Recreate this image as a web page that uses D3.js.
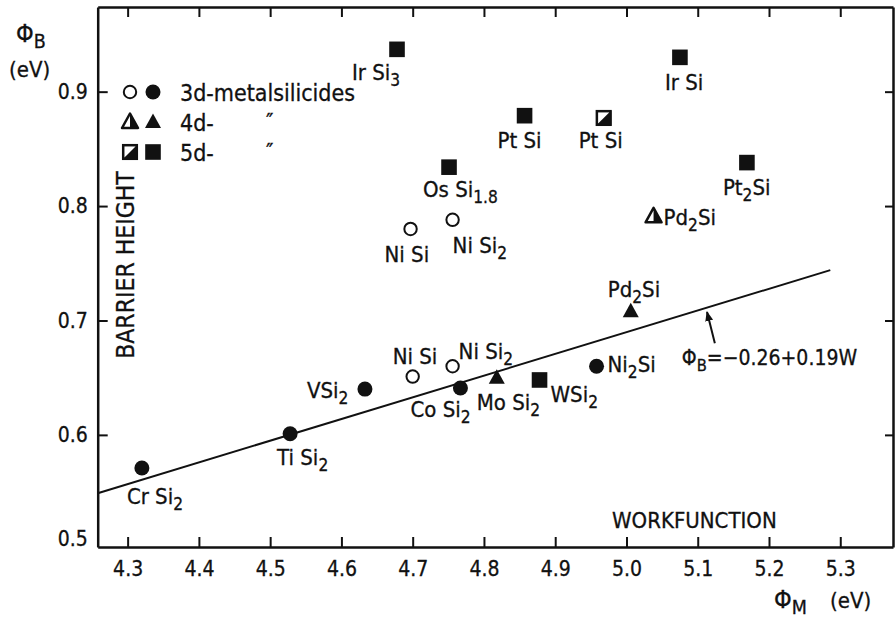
<!DOCTYPE html>
<html>
<head>
<meta charset="utf-8" />
<title>Barrier height vs workfunction</title>
<script src="https://d3js.org/d3.v7.min.js"></script>
<style>
body { margin: 0; background: #fff; }
svg text { font-family: "DejaVu Sans Condensed", "Liberation Sans Narrow", "DejaVu Sans", sans-serif; fill: #111; stroke: #111; stroke-width: 0.3px; }
</style>
</head>
<body>
<svg id="chart" width="895" height="620"></svg>
<script>
// silicide points
var names   = ["Cr Si{2}", "Ti Si{2}", "VSi{2}", "Ni Si", "Co Si{2}", "Ni Si{2}", "Mo Si{2}", "WSi{2}", "Ni{2}Si",
               "Pd{2}Si", "Pd{2}Si", "Pt{2}Si", "Ir Si", "Pt Si", "Pt Si", "Os Si{1.8}", "Ir Si{3}", "Ni Si", "Ni Si{2}"];
var workfn  = [4.32, 4.528, 4.633, 4.70, 4.767, 4.756, 4.818, 4.878, 4.958,
               5.006, 5.038, 5.169, 5.075, 4.857, 4.968, 4.751, 4.678, 4.697, 4.756];
var barrier = [0.571, 0.601, 0.640, 0.651, 0.641, 0.660, 0.650, 0.648, 0.660,
               0.708, 0.791, 0.838, 0.930, 0.879, 0.877, 0.834, 0.937, 0.780, 0.788];
var family  = ["3d", "3d", "3d", "3d", "3d", "3d", "4d", "5d", "3d",
               "4d", "4d", "5d", "5d", "5d", "5d", "5d", "5d", "3d", "3d"];
var fillKind = ["filled", "filled", "filled", "open", "filled", "open", "filled", "filled", "filled",
                "filled", "half", "filled", "filled", "filled", "half", "filled", "filled", "open", "open"];

var legendFamilies = ["3d", "4d", "5d"];
var legendTexts = ["3d-metalsilicides", "4d-", "5d-"];

var xTicks = [4.3, 4.4, 4.5, 4.6, 4.7, 4.8, 4.9, 5.0, 5.1, 5.2, 5.3];
var yTicks = [0.5, 0.6, 0.7, 0.8, 0.9];

// fitted line end points: phi_B = -0.26 + 0.19 W
var fitW   = [4.258, 5.286];
var fitPhi = [0.549, 0.744];

// label placement (pixel offsets from the marker, left/baseline)
var labelOffsets = [[-15, 36], [-13, 31], [-58, 9], [-20, -13], [-50, 29], [6, -7], [-20, 32], [11, 22], [11, 6],
                    [-23, -14], [10, 9], [-24, 32], [-15, 33], [-27, 32], [-25, 30], [-26, 30], [-45, 31], [-26, 33], [0, 33]];

var svg = d3.select("#chart");
var plotL = 97.7, plotR = 893, plotT = 7, plotB = 547;

var x = d3.scaleLinear().domain([4.258, 5.374]).range([plotL, plotR]);
var y = d3.scaleLinear().domain([0.502, 0.974]).range([plotB, plotT]);

function richText(el, str) {
  var parts = str.split(/\{([^}]*)\}/);
  var shift = 0;
  parts.forEach(function(p, i) {
    if (!p) return;
    var sub = i % 2 == 1;
    var off = sub ? 6 : 0;
    el.append("tspan")
      .attr("dy", off - shift)
      .attr("font-size", sub ? "0.78em" : null)
      .text(p);
    shift = off;
  });
}

// frame / axes
var xAxis = svg.append("g")
  .attr("transform", "translate(0," + plotB + ")")
  .call(d3.axisBottom(x).tickValues(xTicks).tickSizeInner(-10).tickSizeOuter(0).tickPadding(14).tickFormat(d3.format(".1f")));
var yAxis = svg.append("g")
  .attr("transform", "translate(" + plotL + ",0)")
  .call(d3.axisLeft(y).tickValues(yTicks).tickSizeInner(-10).tickSizeOuter(0).tickPadding(10).tickFormat(d3.format(".1f")));
var topAxis = svg.append("g")
  .attr("transform", "translate(0," + plotT + ")")
  .call(d3.axisTop(x).tickValues(xTicks).tickSizeInner(-10).tickSizeOuter(0).tickFormat(""));
var rightAxis = svg.append("g")
  .attr("transform", "translate(" + plotR + ",0)")
  .call(d3.axisRight(y).tickValues(yTicks.slice(1)).tickSizeInner(-8).tickSizeOuter(0).tickFormat(""));

svg.selectAll(".domain").attr("stroke", "#111").attr("stroke-width", 2.5);
svg.selectAll(".tick line").attr("stroke", "#111").attr("stroke-width", 2);
svg.selectAll(".tick text")
  .attr("font-family", null)
  .style("font-size", "21px")
  .attr("fill", "#111");
// lowest y tick sits on the bottom axis: no tick mark, label nudged up
yAxis.selectAll(".tick").filter(function(d) { return d < 0.55; }).select("line").remove();
yAxis.selectAll(".tick text").filter(function(d) { return d < 0.55; }).attr("dy", "-0.2em");

// fit line
svg.append("path")
  .datum(d3.zip(fitW, fitPhi))
  .attr("fill", "none")
  .attr("stroke", "#111")
  .attr("stroke-width", 2)
  .attr("d", d3.line().x(function(d) { return x(d[0]); }).y(function(d) { return y(d[1]); }));

// markers
var shapeOf = { "3d": "circle", "4d": "triangle", "5d": "square" };

function drawMarker(g, fam, kind) {
  var shape = shapeOf[fam];
  if (shape == "circle") {
    if (kind == "open") {
      g.append("circle").attr("r", 6.2).attr("fill", "#fff").attr("stroke", "#111").attr("stroke-width", 2);
    } else {
      g.append("circle").attr("r", 7.5).attr("fill", "#111");
    }
  } else if (shape == "triangle") {
    var tri = "M0,-8.5L8,6L-8,6Z";
    if (kind == "half") {
      g.append("path").attr("d", tri).attr("fill", "#fff").attr("stroke", "#111").attr("stroke-width", 2.5).attr("stroke-linejoin", "round");
      g.append("path").attr("d", "M0,-8.5L8,6L0,6Z").attr("fill", "#111");
    } else {
      g.append("path").attr("d", tri).attr("fill", "#111");
    }
  } else {
    var s = 7.8;
    if (kind == "half") {
      g.append("rect").attr("x", -s + 1).attr("y", -s + 1).attr("width", 2 * s - 2).attr("height", 2 * s - 2)
        .attr("fill", "#fff").attr("stroke", "#111").attr("stroke-width", 2.5);
      g.append("path").attr("d", "M" + s + "," + (-s) + "L" + s + "," + s + "L" + (-s) + "," + s + "Z").attr("fill", "#111");
    } else {
      g.append("rect").attr("x", -s).attr("y", -s).attr("width", 2 * s).attr("height", 2 * s).attr("fill", "#111");
    }
  }
}

var pts = svg.selectAll(".pt")
  .data(d3.range(names.length))
  .enter().append("g")
  .attr("class", "pt")
  .attr("transform", function(i) { return "translate(" + x(workfn[i]) + "," + y(barrier[i]) + ")"; });
pts.each(function(i) { drawMarker(d3.select(this), family[i], fillKind[i]); });

svg.selectAll(".lbl")
  .data(d3.range(names.length))
  .enter().append("text")
  .attr("class", "lbl")
  .attr("x", function(i) { return x(workfn[i]) + labelOffsets[i][0]; })
  .attr("y", function(i) { return y(barrier[i]) + labelOffsets[i][1]; })
  .style("font-size", "22px")
  .each(function(i) { richText(d3.select(this), names[i]); });

// legend
legendFamilies.forEach(function(fam, r) {
  var ly = 92 + r * 30;
  drawMarker(svg.append("g").attr("transform", "translate(130," + ly + ")"), fam, fam == "3d" ? "open" : "half");
  drawMarker(svg.append("g").attr("transform", "translate(153," + ly + ")"), fam, "filled");
  svg.append("text").attr("x", 180).attr("y", ly + 9).style("font-size", "23px").text(legendTexts[r]);
  if (r > 0) svg.append("text").attr("x", 266).attr("y", ly + 7).style("font-size", "22px").text("\u2033");
});

// equation + arrow
svg.append("defs").append("marker")
  .attr("id", "arr").attr("viewBox", "0 0 10 10").attr("refX", 9).attr("refY", 5)
  .attr("markerWidth", 5).attr("markerHeight", 5).attr("orient", "auto")
  .append("path").attr("d", "M0,1L10,5L0,9Z").attr("fill", "#111");
svg.append("line")
  .attr("x1", x(5.124)).attr("y1", y(0.680))
  .attr("x2", x(5.113)).attr("y2", y(0.7074))
  .attr("stroke", "#111").attr("stroke-width", 2)
  .attr("marker-end", "url(#arr)");
richText(svg.append("text").attr("x", x(5.124) - 33).attr("y", y(0.680) + 22).style("font-size", "21px"), "\u03A6{B}=\u22120.26+0.19W");

// axis titles
richText(svg.append("text").attr("x", 16).attr("y", 42).style("font-size", "25px"), "\u03A6{B}");
svg.append("text").attr("x", 9).attr("y", 77).style("font-size", "22px").text("(eV)");
richText(svg.append("text").attr("x", 774).attr("y", 608).style("font-size", "25px"), "\u03A6{M}");
svg.append("text").attr("x", 830).attr("y", 608).style("font-size", "22px").text("(eV)");
svg.append("text")
  .attr("transform", "translate(134,265) rotate(-90)")
  .attr("text-anchor", "middle")
  .style("font-size", "24.5px")
  .text("BARRIER HEIGHT");
svg.append("text").attr("x", 612).attr("y", 528).style("font-size", "22px").text("WORKFUNCTION");
</script>
</body>
</html>
